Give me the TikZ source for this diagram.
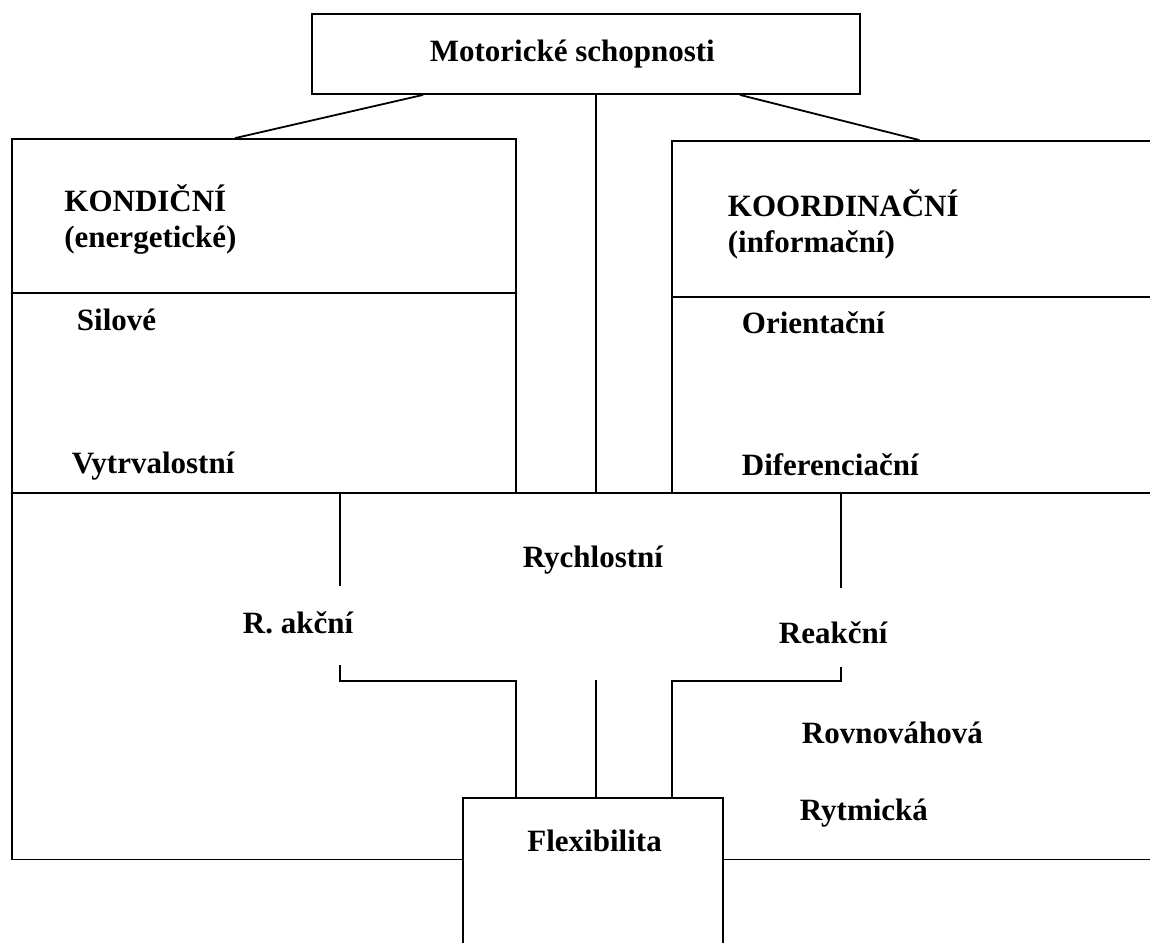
\documentclass[tikz,border=0pt]{standalone}
\usepackage{fontspec}
\setmainfont{Liberation Serif}
\usetikzlibrary{positioning}
\tikzset{
  box/.style={rectangle, draw=black, inner sep=0pt},
  txt/.style={inner sep=0pt, anchor=base west},
  every node/.style={font=\bfseries\fontsize{15.5}{18}\selectfont},
}
\begin{document}
\begin{tikzpicture}[x=0.5pt, y=-0.5pt, line width=0.9pt]
\useasboundingbox (0,0) rectangle (1150,942);
\fill[white] (0,0) rectangle (1150,942);
\clip (0,0) rectangle (1150,942);

% Нижняя рамка
\node (rych) [box, minimum width=574pt, minimum height=183.25pt] at (586,676.25) {};

% Верхний блок
\node (motor) [box, minimum width=274pt, minimum height=40pt] at (586,54) {Motorické schopnosti\hspace*{13.7pt}};

% Левый и правый блоки
\node (kondhead) [box, minimum width=252pt, minimum height=77pt] at (264,216) {};
\node (kondbody) [box, minimum width=252pt, minimum height=100pt] at (264,393) {};
\node (koordhead) [box, minimum width=244pt, minimum height=78pt] at (916,219) {};
\node (koordbody) [box, minimum width=244pt, minimum height=98pt] at (916,395) {};

% Flexibilita
\node (flex) [box, fill=white, minimum width=130pt, minimum height=82pt, anchor=north] at (593.3,797) {};

% Подписи
\node (kond) [txt] at (63.5,211.7) {KONDIČNÍ};
\node (energ) [txt] at ([yshift=-18pt]kond.base west) {(energetické)};
\node (sil) [txt] at (76,330) {Silové};
\node (vytr) [txt] at (71,473) {Vytrvalostní};
\node (koord) [txt] at (727,216.7) {KOORDINAČNÍ};
\node (inform) [txt] at ([yshift=-18pt]koord.base west) {(informační)};
\node (orient) [txt] at (741,333) {Orientační};
\node (difer) [txt] at (741,475) {Diferenciační};
\node (rychl) [txt] at (522,567) {Rychlostní};
\node (akcni) [txt] at (242,633) {R. akční};
\node (reakc) [txt] at (778,643) {Reakční};
\node (rovn) [txt] at (801,743) {Rovnováhová};
\node (rytm) [txt] at (799,820) {Rytmická};
\node (flexi) [txt] at (526.5,851) {Flexibilita};

% Точки изломов
\coordinate (akcA) at (340,586);
\coordinate (akcB) at (340,665);
\coordinate (akcL) at (516,681);
\coordinate (midlow) at (596,680);
\coordinate (reaA) at (841,588);
\coordinate (reaB) at (841,667);
\coordinate (reaR) at (672,681);

% Связи
\draw ([xshift=56pt]motor.south west) -- ([xshift=112pt]kondhead.north west);
\draw ([xshift=214.4pt]motor.south west) -- ([xshift=124.2pt]koordhead.north west);
\draw ([xshift=5pt]motor.south) -- ([xshift=5pt]motor.south |- rych.north);
\draw (akcA |- rych.north) -- (akcA);
\draw (reaA |- rych.north) -- (reaA);
\draw (akcB) |- (akcL) -- (akcL |- flex.north);
\draw (reaB) |- (reaR) -- (reaR |- flex.north);
\draw (midlow) -- (midlow |- flex.north);

\end{tikzpicture}
\end{document}
